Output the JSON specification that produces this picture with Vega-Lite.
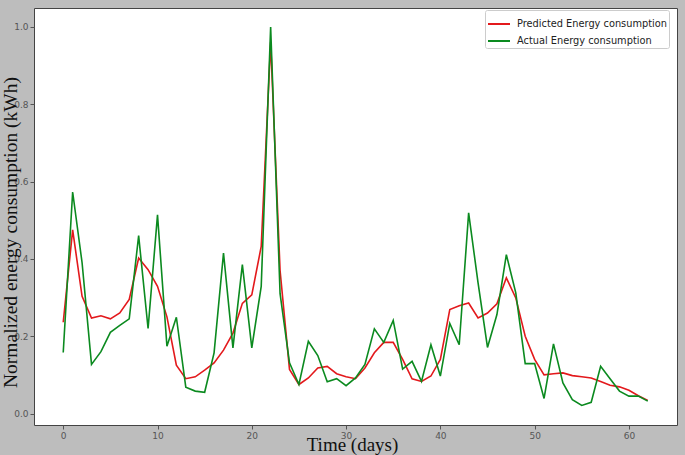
{
  "$schema": "https://vega.github.io/schema/vega-lite/v6.json",
  "autosize": {"type": "none"},
  "width": 643,
  "height": 417,
  "padding": {"left": 34, "top": 8, "right": 8, "bottom": 30},
  "background": "#bdbdbd",
  "config": {
    "view": {"fill": "white", "stroke": "#444", "strokeWidth": 1},
    "axis": {
      "grid": false,
      "domain": false,
      "labelFont": "DejaVu Sans",
      "labelFontSize": 9,
      "labelColor": "#555",
      "tickColor": "#555",
      "tickSize": 4,
      "labelPadding": 2
    }
  },
  "data": {
    "values": [
      {"day": 0, "predicted": 0.236, "actual": 0.158},
      {"day": 1, "predicted": 0.475, "actual": 0.573},
      {"day": 2, "predicted": 0.303, "actual": 0.39},
      {"day": 3, "predicted": 0.247, "actual": 0.127},
      {"day": 4, "predicted": 0.253, "actual": 0.16},
      {"day": 5, "predicted": 0.245, "actual": 0.21},
      {"day": 6, "predicted": 0.26, "actual": 0.228},
      {"day": 7, "predicted": 0.295, "actual": 0.245},
      {"day": 8, "predicted": 0.402, "actual": 0.46},
      {"day": 9, "predicted": 0.372, "actual": 0.22},
      {"day": 10, "predicted": 0.329, "actual": 0.514},
      {"day": 11, "predicted": 0.25, "actual": 0.174},
      {"day": 12, "predicted": 0.125, "actual": 0.249},
      {"day": 13, "predicted": 0.09, "actual": 0.068},
      {"day": 14, "predicted": 0.095, "actual": 0.058},
      {"day": 15, "predicted": 0.112, "actual": 0.055},
      {"day": 16, "predicted": 0.131, "actual": 0.157},
      {"day": 17, "predicted": 0.164, "actual": 0.415},
      {"day": 18, "predicted": 0.208, "actual": 0.17},
      {"day": 19, "predicted": 0.285, "actual": 0.385},
      {"day": 20, "predicted": 0.307, "actual": 0.17},
      {"day": 21, "predicted": 0.432, "actual": 0.329},
      {"day": 22, "predicted": 0.96, "actual": 1.0},
      {"day": 23, "predicted": 0.37, "actual": 0.31},
      {"day": 24, "predicted": 0.114, "actual": 0.131},
      {"day": 25, "predicted": 0.075, "actual": 0.075},
      {"day": 26, "predicted": 0.092, "actual": 0.187},
      {"day": 27, "predicted": 0.118, "actual": 0.15},
      {"day": 28, "predicted": 0.122, "actual": 0.082},
      {"day": 29, "predicted": 0.103, "actual": 0.09},
      {"day": 30, "predicted": 0.095, "actual": 0.072},
      {"day": 31, "predicted": 0.09, "actual": 0.092},
      {"day": 32, "predicted": 0.118, "actual": 0.127},
      {"day": 33, "predicted": 0.157, "actual": 0.219},
      {"day": 34, "predicted": 0.184, "actual": 0.184},
      {"day": 35, "predicted": 0.184, "actual": 0.241},
      {"day": 36, "predicted": 0.14, "actual": 0.115},
      {"day": 37, "predicted": 0.09, "actual": 0.135},
      {"day": 38, "predicted": 0.083, "actual": 0.083},
      {"day": 39, "predicted": 0.097, "actual": 0.178},
      {"day": 40, "predicted": 0.14, "actual": 0.097},
      {"day": 41, "predicted": 0.269, "actual": 0.233},
      {"day": 42, "predicted": 0.279, "actual": 0.178},
      {"day": 43, "predicted": 0.286, "actual": 0.519},
      {"day": 44, "predicted": 0.247, "actual": 0.338},
      {"day": 45, "predicted": 0.26, "actual": 0.171},
      {"day": 46, "predicted": 0.284, "actual": 0.256},
      {"day": 47, "predicted": 0.351, "actual": 0.411},
      {"day": 48, "predicted": 0.299, "actual": 0.312},
      {"day": 49, "predicted": 0.2, "actual": 0.129},
      {"day": 50, "predicted": 0.14, "actual": 0.129},
      {"day": 51, "predicted": 0.1, "actual": 0.039},
      {"day": 52, "predicted": 0.103, "actual": 0.18},
      {"day": 53, "predicted": 0.105, "actual": 0.079},
      {"day": 54, "predicted": 0.098, "actual": 0.036},
      {"day": 55, "predicted": 0.095, "actual": 0.021},
      {"day": 56, "predicted": 0.092, "actual": 0.029},
      {"day": 57, "predicted": 0.083, "actual": 0.122},
      {"day": 58, "predicted": 0.073, "actual": 0.09},
      {"day": 59, "predicted": 0.069, "actual": 0.058},
      {"day": 60, "predicted": 0.06, "actual": 0.045},
      {"day": 61, "predicted": 0.046, "actual": 0.045},
      {"day": 62, "predicted": 0.034, "actual": 0.032}
    ]
  },
  "transform": [
    {"fold": ["predicted", "actual"], "as": ["series", "value"]}
  ],
  "mark": {"type": "line", "strokeWidth": 1.6, "interpolate": "linear"},
  "encoding": {
    "x": {
      "field": "day",
      "type": "quantitative",
      "scale": {"domain": [-3.1, 65.1], "nice": false, "zero": false},
      "axis": {
        "values": [0, 10, 20, 30, 40, 50, 60],
        "title": "Time (days)",
        "titleFont": "Liberation Serif",
        "titleFontSize": 19,
        "titleFontWeight": "normal",
        "titleColor": "#111",
        "titleX": 318,
        "titleY": 25.5,
        "titleBaseline": "alphabetic",
        "titleAlign": "center"
      }
    },
    "y": {
      "field": "value",
      "type": "quantitative",
      "scale": {"domain": [-0.0297, 1.049], "nice": false, "zero": false},
      "axis": {
        "values": [0, 0.2, 0.4, 0.6, 0.8, 1.0],
        "format": ".1f",
        "title": "Normalized energy consumption (kWh)",
        "titleFont": "Liberation Serif",
        "titleFontSize": 19.5,
        "titleFontWeight": "normal",
        "titleColor": "#111",
        "titleAngle": -90,
        "titleX": -18,
        "titleY": 224,
        "titleBaseline": "alphabetic",
        "titleAlign": "center"
      }
    },
    "color": {
      "field": "series",
      "type": "nominal",
      "sort": ["predicted", "actual"],
      "scale": {"domain": ["predicted", "actual"], "range": ["#e3191c", "#0b8a1f"]},
      "legend": {
        "title": null,
        "orient": "none",
        "legendX": 451,
        "legendY": 2,
        "padding": 2,
        "fillColor": "white",
        "strokeColor": "#cccccc",
        "cornerRadius": 2,
        "symbolType": "stroke",
        "symbolSize": 484,
        "symbolStrokeWidth": 2,
        "labelFont": "DejaVu Sans",
        "labelFontSize": 9.8,
        "labelColor": "#222",
        "labelOffset": 6,
        "labelLimit": 0,
        "rowPadding": -6,
        "labelExpr": "datum.label == 'predicted' ? 'Predicted Energy consumption' : 'Actual Energy consumption'"
      }
    },
    "order": {"field": "day", "type": "quantitative"}
  }
}
